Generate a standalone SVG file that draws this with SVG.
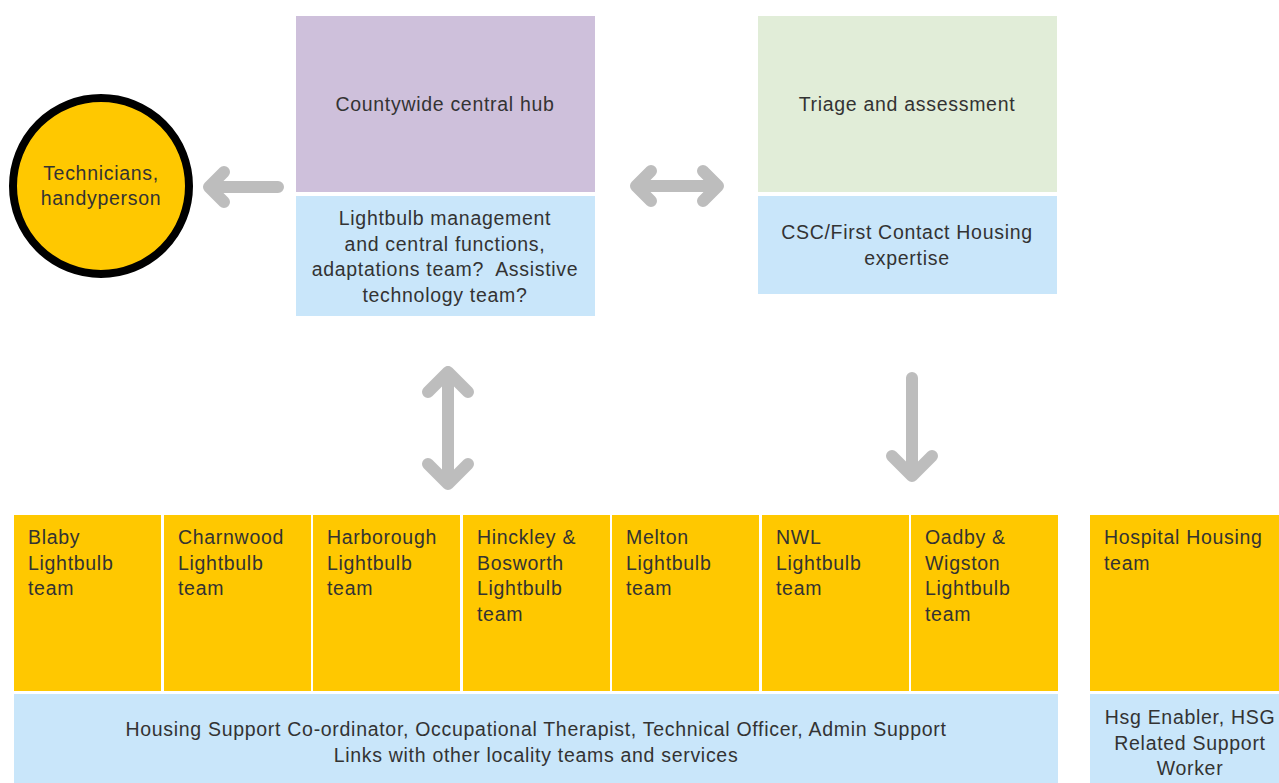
<svg xmlns="http://www.w3.org/2000/svg" width="1279" height="783" viewBox="0 0 1279 783">
<style>
text{font-family:"Liberation Sans",Arial,sans-serif;font-size:19.5px;letter-spacing:0.7px;fill:#333}
.c{text-anchor:middle}
.y{fill:#FFC800}
.b{fill:#C9E6FA}
.a{stroke:#BDBDBD;stroke-width:12;stroke-linecap:round;stroke-linejoin:round;fill:none}
</style>
<rect width="1279" height="783" fill="#fff"/>
<g id="technicians">
<circle cx="101" cy="186" r="88" fill="#FFC800" stroke="#000" stroke-width="8"/>
<text class="c" x="101" y="180">Technicians,</text>
<text class="c" x="101" y="205">handyperson</text>
</g>
<g id="hub">
<rect x="296" y="16" width="299" height="176" fill="#CEC0DB"/>
<text class="c" x="445" y="111">Countywide central hub</text>
</g>
<g id="lightbulb-mgmt">
<rect class="b" x="296" y="196" width="299" height="120"/>
<text class="c" x="445" y="225">Lightbulb management</text>
<text class="c" x="445" y="251">and central functions,</text>
<text class="c" x="445" y="276">adaptations team?&#160; Assistive</text>
<text class="c" x="445" y="302">technology team?</text>
</g>
<g id="triage">
<rect x="758" y="16" width="299" height="176" fill="#E1EDD8"/>
<text class="c" x="907" y="111">Triage and assessment</text>
</g>
<g id="csc">
<rect class="b" x="758" y="196" width="299" height="98"/>
<text class="c" x="907" y="239">CSC/First Contact Housing</text>
<text class="c" x="907" y="265">expertise</text>
</g>
<g id="blaby"><rect class="y" x="14" y="515" width="147" height="176"/>
<text x="28" y="544">Blaby</text><text x="28" y="570">Lightbulb</text><text x="28" y="595">team</text></g>
<g id="charnwood"><rect class="y" x="164" y="515" width="147" height="176"/>
<text x="178" y="544">Charnwood</text><text x="178" y="570">Lightbulb</text><text x="178" y="595">team</text></g>
<g id="harborough"><rect class="y" x="313" y="515" width="147" height="176"/>
<text x="327" y="544">Harborough</text><text x="327" y="570">Lightbulb</text><text x="327" y="595">team</text></g>
<g id="hinckley"><rect class="y" x="463" y="515" width="147" height="176"/>
<text x="477" y="544">Hinckley &amp;</text><text x="477" y="570">Bosworth</text><text x="477" y="595">Lightbulb</text><text x="477" y="621">team</text></g>
<g id="melton"><rect class="y" x="612" y="515" width="147" height="176"/>
<text x="626" y="544">Melton</text><text x="626" y="570">Lightbulb</text><text x="626" y="595">team</text></g>
<g id="nwl"><rect class="y" x="762" y="515" width="147" height="176"/>
<text x="776" y="544">NWL</text><text x="776" y="570">Lightbulb</text><text x="776" y="595">team</text></g>
<g id="oadby"><rect class="y" x="911" y="515" width="147" height="176"/>
<text x="925" y="544">Oadby &amp;</text><text x="925" y="570">Wigston</text><text x="925" y="595">Lightbulb</text><text x="925" y="621">team</text></g>
<g id="housing-support"><rect class="b" x="14" y="694" width="1044" height="89"/>
<text class="c" x="536" y="736">Housing Support Co-ordinator, Occupational Therapist, Technical Officer, Admin Support</text>
<text class="c" x="536" y="762">Links with other locality teams and services</text></g>
<g id="hospital"><rect class="y" x="1090" y="515" width="189" height="176"/>
<text x="1104" y="544">Hospital Housing</text><text x="1104" y="570">team</text></g>
<g id="hsg"><rect class="b" x="1090" y="694" width="189" height="89"/>
<text class="c" x="1190" y="724">Hsg Enabler, HSG</text>
<text class="c" x="1190" y="750">Related Support</text>
<text class="c" x="1190" y="775">Worker</text></g>
<g id="connectors">
<path class="a" d="M278 187H209M224 172L209 187L224 202"/>
<path class="a" d="M636 186H718M651 171L636 186L651 201M703 171L718 186L703 201"/>
<path class="a" d="M448 372V484M428 392L448 372L468 392M428 464L448 484L468 464"/>
<path class="a" d="M912 378V476M892 456L912 476L932 456"/>
</g>
</svg>
